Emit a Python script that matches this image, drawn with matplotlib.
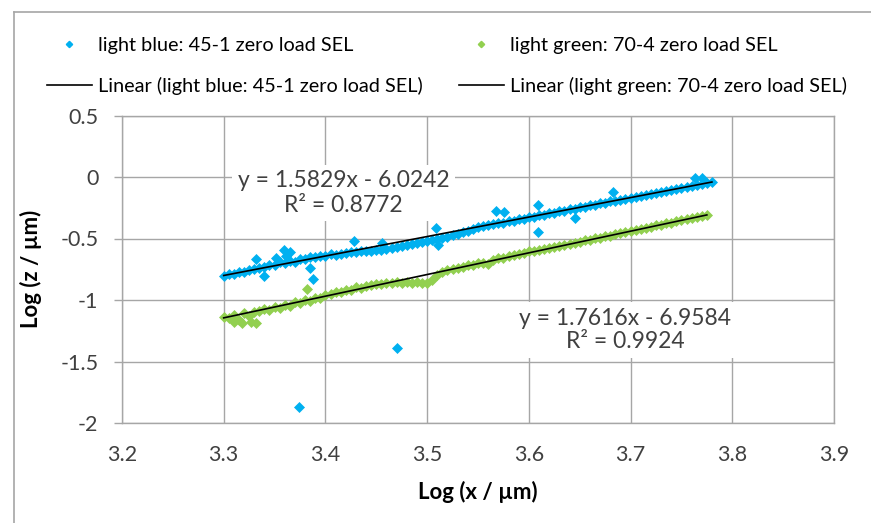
import matplotlib
matplotlib.use("Agg")
import matplotlib.pyplot as plt
from matplotlib.lines import Line2D
import numpy as np

# ---------------- data ----------------
blue_x = [3.300, 3.305, 3.310, 3.315, 3.320, 3.325, 3.330, 3.335, 3.340, 3.345,
          3.350, 3.355, 3.360, 3.365, 3.370, 3.375, 3.380, 3.385, 3.390, 3.395,
          3.400, 3.405, 3.410, 3.415, 3.420, 3.425, 3.430, 3.435, 3.440, 3.445,
          3.450, 3.455, 3.460, 3.465, 3.470, 3.475, 3.480, 3.485, 3.490, 3.495,
          3.500, 3.505, 3.510, 3.515, 3.520, 3.525, 3.530, 3.535, 3.540, 3.545,
          3.550, 3.555, 3.560, 3.565, 3.570, 3.575, 3.580, 3.585, 3.590, 3.595,
          3.600, 3.605, 3.610, 3.615, 3.620, 3.625, 3.630, 3.635, 3.640, 3.645,
          3.650, 3.655, 3.660, 3.665, 3.670, 3.675, 3.680, 3.685, 3.690, 3.695,
          3.700, 3.705, 3.710, 3.715, 3.720, 3.725, 3.730, 3.735, 3.740, 3.745,
          3.750, 3.755, 3.760, 3.765, 3.770, 3.775, 3.780]
blue_y = [-0.805, -0.788, -0.790, -0.772, -0.775, -0.758, -0.745, -0.738, -0.728, -0.712,
          -0.715, -0.695, -0.700, -0.680, -0.688, -0.668, -0.665, -0.650, -0.648, -0.642,
          -0.640, -0.628, -0.632, -0.622, -0.620, -0.612, -0.610, -0.600, -0.598, -0.598,
          -0.592, -0.590, -0.585, -0.575, -0.572, -0.560, -0.555, -0.545, -0.540, -0.528,
          -0.522, -0.512, -0.505, -0.496, -0.488, -0.472, -0.460, -0.448, -0.436, -0.422,
          -0.410, -0.400, -0.391, -0.386, -0.375, -0.370, -0.358, -0.355, -0.342, -0.339,
          -0.327, -0.322, -0.310, -0.306, -0.294, -0.291, -0.278, -0.274, -0.263, -0.259,
          -0.247, -0.243, -0.231, -0.227, -0.215, -0.211, -0.199, -0.195, -0.183, -0.180,
          -0.168, -0.164, -0.152, -0.148, -0.136, -0.132, -0.120, -0.116, -0.104, -0.100,
          -0.088, -0.084, -0.072, -0.068, -0.056, -0.052, -0.040]
blue_out_x = [3.332, 3.340, 3.351, 3.359, 3.365, 3.361, 3.385, 3.388, 3.428, 3.374,
              3.470, 3.456, 3.509, 3.511, 3.568, 3.576, 3.609, 3.609, 3.645, 3.683,
              3.763, 3.770]
blue_out_y = [-0.669, -0.802, -0.656, -0.593, -0.612, -0.642, -0.737, -0.832, -0.518, -1.872,
              -1.393, -0.539, -0.417, -0.553, -0.276, -0.287, -0.228, -0.444, -0.331, -0.125,
              -0.011, -0.005]

green_x = [3.300, 3.305, 3.310, 3.315, 3.320, 3.325, 3.330, 3.335, 3.340, 3.345,
           3.350, 3.355, 3.360, 3.365, 3.370, 3.375, 3.380, 3.385, 3.390, 3.395,
           3.400, 3.405, 3.410, 3.415, 3.420, 3.425, 3.430, 3.435, 3.440, 3.445,
           3.450, 3.455, 3.460, 3.465, 3.470, 3.475, 3.480, 3.485, 3.490, 3.495,
           3.500, 3.505, 3.510, 3.515, 3.520, 3.525, 3.530, 3.535, 3.540, 3.545,
           3.550, 3.555, 3.560, 3.565, 3.570, 3.575, 3.580, 3.585, 3.590, 3.595,
           3.600, 3.605, 3.610, 3.615, 3.620, 3.625, 3.630, 3.635, 3.640, 3.645,
           3.650, 3.655, 3.660, 3.665, 3.670, 3.675, 3.680, 3.685, 3.690, 3.695,
           3.700, 3.705, 3.710, 3.715, 3.720, 3.725, 3.730, 3.735, 3.740, 3.745,
           3.750, 3.755, 3.760, 3.765, 3.770, 3.775]
green_y = [-1.135, -1.150, -1.118, -1.165, -1.105, -1.130, -1.095, -1.090, -1.070, -1.078,
           -1.060, -1.065, -1.040, -1.045, -1.020, -1.025, -1.000, -1.005, -0.982, -0.985,
           -0.962, -0.955, -0.935, -0.935, -0.915, -0.918, -0.898, -0.900, -0.885, -0.880,
           -0.872, -0.870, -0.862, -0.862, -0.856, -0.858, -0.853, -0.862, -0.852, -0.865,
           -0.858, -0.835, -0.795, -0.772, -0.760, -0.752, -0.738, -0.735, -0.718, -0.716,
           -0.700, -0.702, -0.705, -0.676, -0.662, -0.655, -0.642, -0.636, -0.625, -0.618,
           -0.605, -0.601, -0.590, -0.586, -0.575, -0.569, -0.560, -0.551, -0.545, -0.534,
           -0.528, -0.516, -0.511, -0.499, -0.494, -0.481, -0.476, -0.463, -0.459, -0.446,
           -0.441, -0.428, -0.423, -0.411, -0.406, -0.393, -0.388, -0.375, -0.371, -0.358,
           -0.353, -0.340, -0.335, -0.323, -0.318, -0.305]
green_out_x = [3.382, 3.327, 3.332, 3.310, 3.318]
green_out_y = [-0.913, -1.176, -1.190, -1.175, -1.185]

# trendline coefficients (slope, intercept) as printed on the chart
blue_fit = (1.5829, -6.0242)
green_fit = (1.7616, -6.9584)
blue_eq = "y = 1.5829x - 6.0242\nR² = 0.8772"
green_eq = "y = 1.7616x - 6.9584\nR² = 0.9924"

labels = ["light blue: 45-1 zero load SEL", "Linear (light blue: 45-1 zero load SEL)",
          "light green: 70-4 zero load SEL", "Linear (light green: 70-4 zero load SEL)"]
x_ticks = [3.2, 3.3, 3.4, 3.5, 3.6, 3.7, 3.8, 3.9]
y_ticks = [0.5, 0, -0.5, -1, -1.5, -2]
x_label = "Log (x / µm)"
y_label = "Log (z / µm)"

# ---------------- style ----------------
BLUE = "#00B0F0"
GREEN = "#92D050"
GRID = "#A6A6A6"
TXT = "#404040"
FONT = ["Lato", "DejaVu Sans"]
plt.rcParams['font.family'] = FONT

W, H = 871, 523
fig = plt.figure(figsize=(W / 100, H / 100), dpi=100)
ax = fig.add_axes([122 / W, 1 - 423 / H, (834 - 122) / W, (423 - 115.5) / H])

ms = 4.6
for xs, ys, c in [(blue_x, blue_y, BLUE), (blue_out_x, blue_out_y, BLUE),
                  (green_x, green_y, GREEN), (green_out_x, green_out_y, GREEN)]:
    ax.plot(xs, ys, linestyle="none", marker="D", ms=ms, color=c, mec=c, mew=0.5, zorder=3)

bx = np.array([min(blue_x), max(blue_x)])
gx = np.array([min(green_x), max(green_x)])
ax.plot(bx, blue_fit[0] * bx + blue_fit[1], color="black", lw=1.2, zorder=4)
ax.plot(gx, green_fit[0] * gx + green_fit[1], color="black", lw=1.2, zorder=4)

ax.set_xlim(3.2, 3.9)
ax.set_ylim(-2, 0.5)
ax.set_xticks(x_ticks)
ax.set_yticks(y_ticks)
ax.set_xticklabels([f"{v:g}" for v in x_ticks])
ax.set_yticklabels([f"{v:g}" for v in y_ticks])
ax.grid(True, color=GRID, lw=1.0, zorder=0)
ax.set_axisbelow(True)
for s in ax.spines.values():
    s.set_color(GRID)
    s.set_linewidth(1.0)
ax.tick_params(axis="x", length=0, pad=16, labelsize=15.5, labelcolor=TXT)
ax.tick_params(axis="y", length=6, width=1.0, color=GRID, pad=11, labelsize=15.5, labelcolor=TXT)

ax.set_xlabel(x_label, fontsize=16, fontweight="bold", labelpad=11, color="black")
ax.set_ylabel(y_label, fontsize=16, fontweight="bold", labelpad=13, color="black")

ax.text(3.4177, -0.130, blue_eq, ha="center", va="center", fontsize=16.5, color=TXT,
        linespacing=1.2, zorder=5,
        bbox=dict(facecolor="white", edgecolor="none", pad=4))
ax.text(3.695, -1.244, green_eq, ha="center", va="center", fontsize=16.5, color=TXT,
        linespacing=1.15, zorder=5,
        bbox=dict(facecolor="white", edgecolor="none", pad=4))

# legend (2 x 2)
h1 = Line2D([], [], linestyle="none", marker="D", ms=3.2, color=BLUE)
h3 = Line2D([], [], color="black", lw=1.2)
h2 = Line2D([], [], linestyle="none", marker="D", ms=3.2, color=GREEN)
h4 = Line2D([], [], color="black", lw=1.2)
leg = fig.legend([h1, h3, h2, h4], labels, ncol=2, loc="center left",
                 bbox_to_anchor=(47 / W, 1 - 66 / H), frameon=False,
                 borderpad=0, borderaxespad=0, handlelength=2.25, handletextpad=0.3,
                 columnspacing=1.85, labelspacing=1.2, prop=dict(size=14.3))
for t in leg.get_texts():
    t.set_color("black")

# outer chart frame (partially visible)
fig.add_artist(Line2D([14 / W, 14 / W], [0, 1 - 12 / H], transform=fig.transFigure,
                      color=GRID, lw=1.2))
fig.add_artist(Line2D([14 / W, 1], [1 - 12 / H, 1 - 12 / H], transform=fig.transFigure,
                      color=GRID, lw=1.2))

fig.savefig("out.png", dpi=100)
